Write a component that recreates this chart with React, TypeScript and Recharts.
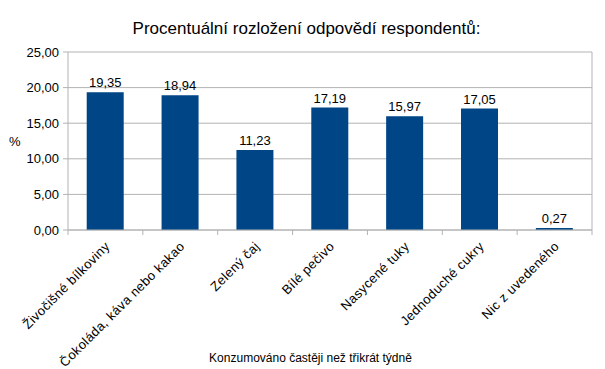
import React from "react";
import { Bar, BarChart, CartesianGrid, LabelList, XAxis, YAxis } from "recharts";

const categories = [
  "Živočišné bílkoviny",
  "Čokoláda, káva nebo kakao",
  "Zelený čaj",
  "Bílé pečivo",
  "Nasycené tuky",
  "Jednoduché cukry",
  "Nic z uvedeného",
];
const values = [19.35, 18.94, 11.23, 17.19, 15.97, 17.05, 0.27];
const yTicks = [0, 5, 10, 15, 20, 25];

const data = categories.map((name, i) => ({ name, value: values[i] }));

const FONT = "'Liberation Sans', Arial, sans-serif";
const GRID = "#b3b3b3";
const BAR = "#004586";
const W = 605;
const H = 369;
const LEFT = 68;
const RIGHT = 13;
const BAND = (W - LEFT - RIGHT) / categories.length;

const fmt = (v: number) => v.toFixed(2).replace(".", ",");

function CategoryTick(props: any) {
  const { x, y, payload, index } = props;
  const half = BAND / 2;
  const last = index === categories.length - 1;
  const ax = x + 2;
  const ay = y + 14;
  return (
    <g>
      <line x1={x - half} y1={y} x2={x - half} y2={y + 5} stroke={GRID} />
      {last && <line x1={x + half} y1={y} x2={x + half} y2={y + 5} stroke={GRID} />}
      <text
        x={ax}
        y={ay}
        dy="0.35em"
        textAnchor="end"
        transform={`rotate(-45 ${ax} ${ay})`}
        fontSize={13}
        letterSpacing={0.4}
        fontFamily={FONT}
        fill="#000"
      >
        {payload.value}
      </text>
    </g>
  );
}

export default function App() {
  return (
    <div style={{ position: "absolute", left: 0, top: 0, width: W, height: H, background: "#fff", fontFamily: FONT }}>
      <div style={{ position: "absolute", left: 0, width: W, top: 19, textAlign: "center", fontSize: 17, color: "#000", paddingLeft: 4 }}>
        Procentuální rozložení odpovědí respondentů:
      </div>
      <BarChart
        width={W}
        height={H}
        data={data}
        margin={{ top: 52, right: 0, left: 0, bottom: 29 }}
        barCategoryGap="25%"
      >
        <CartesianGrid vertical={false} stroke={GRID} />
        <XAxis
          dataKey="name"
          interval={0}
          height={110}
          tickSize={0}
          tickMargin={0}
          tickLine={false}
          axisLine={{ stroke: GRID }}
          tick={<CategoryTick />}
        />
        <YAxis
          width={LEFT}
          domain={[0, 25]}
          ticks={yTicks}
          tickFormatter={fmt}
          tickSize={5}
          tickMargin={4}
          tickLine={{ stroke: GRID }}
          axisLine={{ stroke: GRID }}
          tick={{ fontSize: 13, fill: "#000", fontFamily: FONT }}
          label={{ value: "%", position: "insideLeft", offset: 9, fontSize: 13, fill: "#000", fontFamily: FONT }}
        />
        <YAxis
          yAxisId="right"
          orientation="right"
          width={RIGHT}
          domain={[0, 25]}
          tick={false}
          tickLine={false}
          axisLine={{ stroke: GRID }}
        />
        <Bar dataKey="value" fill={BAR} isAnimationActive={false}>
          <LabelList dataKey="value" position="top" offset={5} formatter={(v: number) => fmt(v)} fontSize={13} fill="#000" fontFamily={FONT} />
        </Bar>
      </BarChart>
      <div style={{ position: "absolute", left: 0, width: W, top: 351, textAlign: "center", fontSize: 12, color: "#000", paddingLeft: 8 }}>
        Konzumováno častěji než třikrát týdně
      </div>
    </div>
  );
}
